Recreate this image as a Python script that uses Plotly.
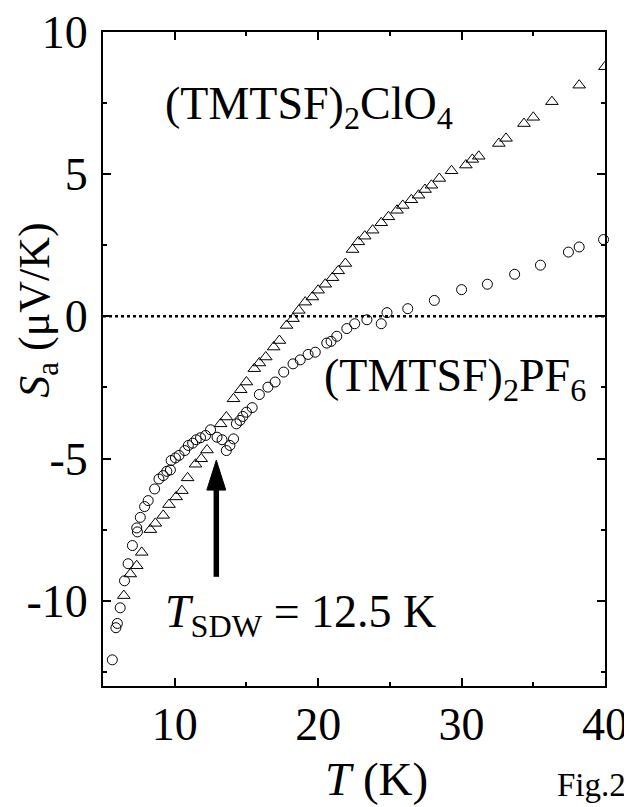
import plotly.graph_objects as go

# ---- data: (TMTSF)2PF6 (open circles) ----
pf6_T = [5.65, 5.9, 6.0, 6.2, 6.5, 6.75, 7.05, 7.35, 7.4, 7.6, 7.9, 8.15, 8.6, 8.9,
         9.2, 9.45, 9.7, 9.75, 10.05, 10.3, 10.7, 10.95, 11.25, 11.5, 11.8, 12.15,
         12.5, 12.95, 13.3, 13.6, 13.85, 14.1, 14.3, 14.55, 14.75, 15.0, 15.4, 15.9,
         16.5, 17.0, 17.6, 18.25, 18.75, 19.3, 19.8, 20.6, 20.9, 21.3, 22.0, 22.55,
         23.4, 24.4, 24.8, 26.25, 28.1, 30.0, 31.8, 33.7, 35.5, 37.45, 38.2, 39.9]
pf6_S = [-12.08, -10.95, -10.8, -10.25, -9.3, -8.7, -8.06, -7.44, -7.58, -7.07, -6.69,
         -6.48, -6.07, -5.72, -5.6, -5.45, -5.4, -5.07, -4.98, -4.89, -4.72, -4.54,
         -4.46, -4.34, -4.27, -4.19, -3.99, -4.25, -4.34, -4.72, -4.54, -4.31, -3.78,
         -3.66, -3.52, -3.37, -3.21, -2.75, -2.49, -2.31, -1.96, -1.67, -1.53, -1.34,
         -1.26, -0.94, -0.88, -0.7, -0.43, -0.26, -0.12, -0.26, 0.13, 0.27, 0.56,
         0.94, 1.13, 1.48, 1.8, 2.26, 2.44, 2.7]

# ---- data: (TMTSF)2ClO4 (open triangles) ----
clo4_T = [6.45, 6.9, 7.35, 7.7, 8.3, 8.65, 9.2, 9.6, 10.1, 10.5, 10.9, 11.45, 11.85,
          12.25, 13.2, 13.6, 14.1, 14.6, 15.0, 15.55, 15.9, 16.35, 16.9, 17.3, 17.8,
          18.25, 18.65, 19.1, 19.6, 20.0, 20.5, 21.0, 21.4, 21.9, 22.4, 22.8, 23.25,
          23.8, 24.4, 24.9, 25.5, 25.9, 26.5, 27.0, 27.45, 27.9, 28.45, 29.3, 30.3,
          30.75, 31.2, 32.6, 33.1, 34.35, 35.0, 36.3, 38.2, 40.0]
clo4_S = [-9.82, -9.06, -8.77, -8.3, -7.5, -7.28, -7.0, -6.62, -6.35, -6.13, -5.68,
          -5.2, -5.01, -4.7, -3.78, -3.54, -2.9, -2.58, -2.31, -1.84, -1.64, -1.43,
          -1.08, -0.85, -0.32, -0.08, 0.21, 0.5, 0.68, 0.92, 1.13, 1.36, 1.6, 1.86,
          2.35, 2.62, 2.82, 3.03, 3.29, 3.5, 3.73, 3.9, 4.1, 4.26, 4.46, 4.61, 4.85,
          5.12, 5.32, 5.52, 5.63, 6.08, 6.26, 6.78, 7.0, 7.55, 8.13, 8.78]

x_ticks = [10, 20, 30, 40]
y_ticks = [-10, -5, 0, 5, 10]
x_range = [5, 40]
y_range = [-13, 10]

# SDW arrow annotation
T_ARROW = 12.9
ARROW_TIP = -5.06
ARROW_TAIL = -9.16

FONT = "Liberation Serif, Times New Roman, Times, serif"
BLACK = "black"

fig = go.Figure()
fig.add_trace(go.Scatter(x=pf6_T, y=pf6_S, mode="markers",
                         marker=dict(symbol="circle-open", size=10,
                                     color=BLACK, line=dict(width=1, color=BLACK)),
                         showlegend=False, cliponaxis=False))
fig.add_trace(go.Scatter(x=clo4_T, y=clo4_S, mode="markers",
                         marker=dict(symbol="triangle-up-open", size=11,
                                     color=BLACK, line=dict(width=1, color=BLACK)),
                         showlegend=False, cliponaxis=True))

# zero reference line
fig.add_shape(type="line", xref="x", yref="y", x0=x_range[0], x1=x_range[1], y0=0, y1=0,
              line=dict(color=BLACK, width=2.5, dash="dot"), layer="below")

# arrow: shaft + head
head_len = 1.05  # in S units
head_half = 0.66  # in T units
fig.add_shape(type="line", xref="x", yref="y", x0=T_ARROW, x1=T_ARROW,
              y0=ARROW_TAIL, y1=ARROW_TIP - head_len + 0.1,
              line=dict(color=BLACK, width=5.5))
fig.add_shape(type="path", xref="x", yref="y",
              path=f"M {T_ARROW - head_half} {ARROW_TIP - head_len} L {T_ARROW} {ARROW_TIP} "
                   f"L {T_ARROW + head_half} {ARROW_TIP - head_len} Z",
              fillcolor=BLACK, line=dict(color=BLACK, width=1))

axis_common = dict(showline=True, linecolor=BLACK, linewidth=2, mirror="ticks",
                   ticks="inside", ticklen=8, tickwidth=2, tickcolor=BLACK,
                   showgrid=False, zeroline=False, automargin=False,
                   ticklabeloverflow="allow",
                   tickfont=dict(family=FONT, size=46, color=BLACK))

fig.update_xaxes(range=x_range, tickvals=x_ticks, ticktext=[str(v) for v in x_ticks],
                 minor=dict(ticks="inside", ticklen=4, tickwidth=2, tickcolor=BLACK,
                            tickvals=[15, 25, 35]),
                 ticklabelstandoff=-3, **axis_common)
fig.update_yaxes(range=y_range, tickvals=y_ticks, ticktext=[str(v) for v in y_ticks],
                 minor=dict(ticks="inside", ticklen=4, tickwidth=2, tickcolor=BLACK,
                            tickvals=[-12.5, -7.5, -2.5, 2.5, 7.5]),
                 ticklabelstandoff=4, **axis_common)

ann_font = dict(family=FONT, size=46, color=BLACK)
fig.add_annotation(text="(TMTSF)<sub>2</sub>ClO<sub>4</sub>", x=9.15, y=7.35,
                   xref="x", yref="y", xanchor="left", yanchor="middle",
                   showarrow=False, font=ann_font)
fig.add_annotation(text="(TMTSF)<sub>2</sub>PF<sub>6</sub>", x=20.3, y=-2.2,
                   xref="x", yref="y", xanchor="left", yanchor="middle",
                   showarrow=False, font=ann_font)
fig.add_annotation(text="<i>T</i><sub>SDW</sub> = 12.5 K", x=9.15, y=-10.5,
                   xref="x", yref="y", xanchor="left", yanchor="middle",
                   showarrow=False, font=ann_font)

# axis titles
fig.add_annotation(text="<i>S</i><sub>a</sub> (μV/K)", x=-0.13, y=0.575,
                   xref="paper", yref="paper", xanchor="center", yanchor="middle",
                   textangle=-90, showarrow=False,
                   font=dict(family=FONT, size=44, color=BLACK))
fig.add_annotation(text="<i>T</i> (K)", x=0.544, y=-0.142,
                   xref="paper", yref="paper", xanchor="center", yanchor="middle",
                   showarrow=False, font=dict(family=FONT, size=47, color=BLACK))
fig.add_annotation(text="Fig.2", x=1.045, y=-0.151,
                   xref="paper", yref="paper", xanchor="right", yanchor="middle",
                   showarrow=False, font=dict(family=FONT, size=33, color=BLACK))

# page body has an 8px margin, so the figure is 8px smaller than the window
fig.update_layout(width=624, height=799,
                  margin=dict(l=95, r=27, t=24, b=121),
                  paper_bgcolor="white", plot_bgcolor="white",
                  font=dict(family=FONT, color=BLACK))

fig.write_html("out.html")
